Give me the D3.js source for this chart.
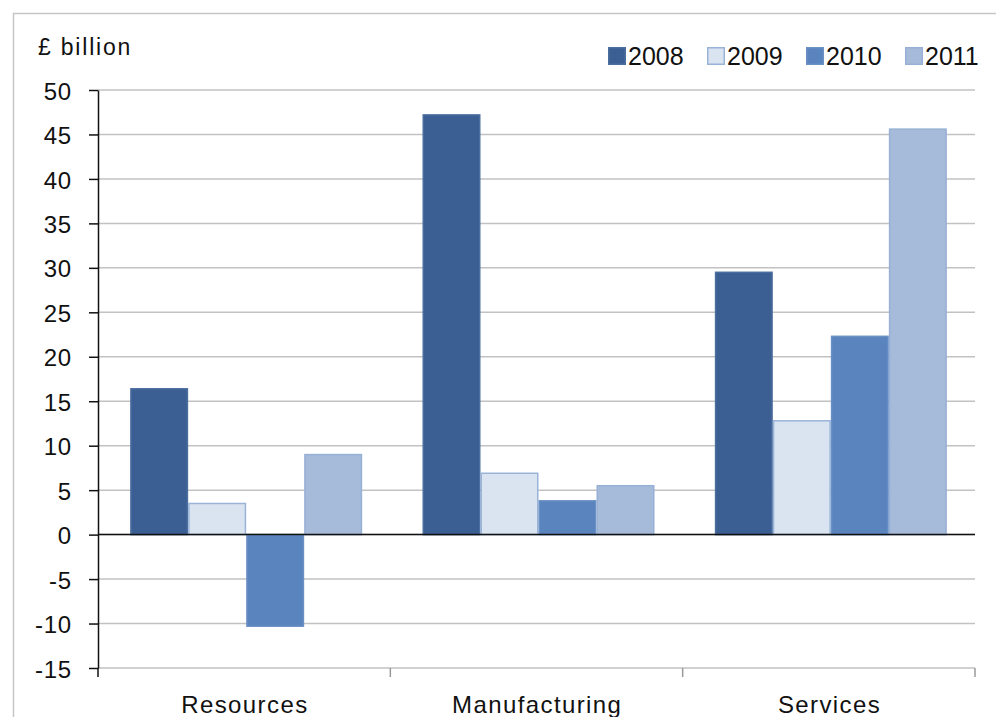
<!DOCTYPE html>
<html>
<head>
<meta charset="utf-8">
<script src="https://cdn.jsdelivr.net/npm/d3@7"></script>
<style>
  html, body { margin: 0; padding: 0; background: #fff; }
  svg { display: block; font-family: "Liberation Sans", Arial, sans-serif; }
</style>
</head>
<body>
<svg id="chart" width="996" height="717"></svg>
<script>
// Net investment by sector, £ billion
const categories = ["Resources", "Manufacturing", "Services"];
const years = ["2008", "2009", "2010", "2011"];
const values2008 = [16.4, 47.2, 29.5];
const values2009 = [3.5, 6.9, 12.8];
const values2010 = [-10.3, 3.8, 22.3];
const values2011 = [9.0, 5.5, 45.6];
const yTicks = [-15, -10, -5, 0, 5, 10, 15, 20, 25, 30, 35, 40, 45, 50];
const unitLabel = "£ billion";

const seriesValues = [values2008, values2009, values2010, values2011];
const fills = ["#3B5F92", "#DAE4F0", "#5A84BE", "#A6BBDA"];
const strokes = ["#4C6E9E", "#9AB4D8", "#6A90C4", "#97B0D5"];

const svg = d3.select("#chart");
const plotLeft = 98, plotRight = 975, plotTop = 90, plotBottom = 668;

// outer chart frame
svg.append("path")
  .attr("d", "M13.5,717 V13.5 H996")
  .attr("fill", "none")
  .attr("stroke", "#C6C6C6")
  .attr("stroke-width", 1.5);

const y = d3.scaleLinear().domain([-15, 50]).range([plotBottom, plotTop]);
const x0 = d3.scaleBand().domain(categories).range([plotLeft, plotRight]).padding(0);
const x1 = d3.scaleBand().domain(years).range([2, x0.bandwidth() + 2])
  .paddingInner(0).paddingOuter(0.52);

// horizontal gridlines
svg.append("g")
  .selectAll("line")
  .data(yTicks)
  .join("line")
  .attr("x1", plotLeft).attr("x2", plotRight)
  .attr("y1", d => y(d)).attr("y2", d => y(d))
  .attr("stroke", "#C2C2C2")
  .attr("stroke-width", 1.5);

// bars
const groups = svg.append("g")
  .selectAll("g")
  .data(categories)
  .join("g")
  .attr("transform", d => `translate(${x0(d)},0)`);

groups.selectAll("rect")
  .data((c, ci) => years.map((yr, si) => ({ yr, si, v: seriesValues[si][ci] })))
  .join("rect")
  .attr("x", d => x1(d.yr) + 0.75)
  .attr("width", x1.bandwidth() - 1.5)
  .attr("y", d => Math.min(y(d.v), y(0)))
  .attr("height", d => Math.abs(y(d.v) - y(0)))
  .attr("fill", d => fills[d.si])
  .attr("stroke", d => strokes[d.si])
  .attr("stroke-width", 1.5);

// zero line
svg.append("line")
  .attr("x1", plotLeft).attr("x2", plotRight)
  .attr("y1", y(0)).attr("y2", y(0))
  .attr("stroke", "#111")
  .attr("stroke-width", 1.5);

// category boundary ticks under the plot
const bounds = categories.map(c => x0(c)).concat([plotRight]);
svg.append("g")
  .selectAll("line")
  .data(bounds)
  .join("line")
  .attr("x1", d => d).attr("x2", d => d)
  .attr("y1", plotBottom).attr("y2", plotBottom + 9)
  .attr("stroke", (d, i) => i === 0 ? "#111" : "#9A9A9A")
  .attr("stroke-width", 1.5);

// y axis (plain hyphen for negatives)
const yAxis = svg.append("g")
  .attr("transform", `translate(${plotLeft},0)`)
  .call(d3.axisLeft(y).tickValues(yTicks).tickFormat(d => String(d))
    .tickSize(9).tickPadding(17).tickSizeOuter(0));
yAxis.select(".domain").attr("stroke", "#111").attr("stroke-width", 1.5);
yAxis.selectAll(".tick line").attr("stroke", "#111").attr("stroke-width", 1.5);
yAxis.selectAll(".tick text")
  .attr("fill", "#111")
  .style("font-size", "24px")
  .style("letter-spacing", "0.8px")
  .attr("dy", "0.38em");

// category labels
const xAxis = svg.append("g")
  .attr("transform", `translate(0,${plotBottom})`)
  .call(d3.axisBottom(x0).tickSize(0).tickPadding(28));
xAxis.select(".domain").remove();
xAxis.selectAll(".tick text")
  .attr("fill", "#111")
  .attr("dx", "0.7")
  .style("font-size", "24px")
  .style("letter-spacing", "1.4px");

// unit label
svg.append("text")
  .attr("x", 38).attr("y", 55)
  .attr("fill", "#111")
  .style("font-size", "23px")
  .style("letter-spacing", "1.8px")
  .text(unitLabel);

// legend
const legend = svg.append("g")
  .selectAll("g")
  .data(years)
  .join("g")
  .attr("transform", (d, i) => `translate(${608 + i * 99},47)`);
legend.append("rect")
  .attr("x", 0.75).attr("y", 0.75)
  .attr("width", 16.5).attr("height", 16.5)
  .attr("fill", (d, i) => fills[i])
  .attr("stroke", (d, i) => strokes[i])
  .attr("stroke-width", 1.5);
legend.append("text")
  .attr("x", 20).attr("y", 18)
  .attr("fill", "#111")
  .style("font-size", "25px")
  .text(d => d);
</script>
</body>
</html>
